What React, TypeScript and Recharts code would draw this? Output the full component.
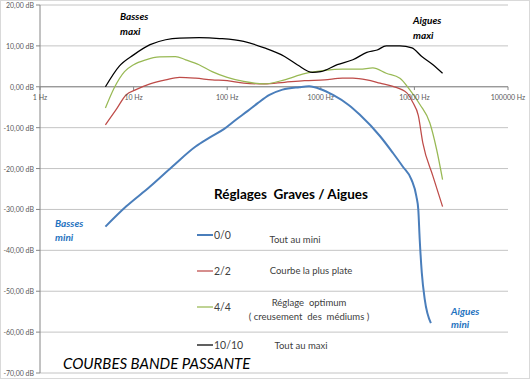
import React from 'react';
import { LineChart, Line, XAxis, YAxis, CartesianGrid, ReferenceLine, ReferenceDot } from 'recharts';

// ---- data ----
const freqTicks = [1, 10, 100, 1000, 10000, 100000];
const freqLabels = ['1 Hz', '10 Hz', '100 Hz', '1000 Hz', '10000 Hz', '100000 Hz'];
const dbTicks = [20, 10, 0, -10, -20, -30, -40, -50, -60, -70];

const blueFreq = [5, 8.3, 15, 26, 46, 64, 93, 125, 166, 212, 283, 390, 590, 750, 1000, 1350, 2000, 2600, 4300, 5900, 7500, 9300, 10500, 11000, 11400, 12000, 12900, 15000];
const blueDb = [-34.2, -29.3, -24.4, -19.5, -14.6, -12.5, -10.3, -8.0, -5.9, -4.0, -2.0, -0.7, -0.1, 0.1, -0.6, -2.0, -4.5, -6.8, -12.1, -16.2, -19.5, -22.7, -26.8, -30, -37.4, -45.5, -52, -57.8];

const redFreq = [5, 6.5, 8.3, 10.6, 15, 22, 31, 46, 69, 100, 150, 250, 410, 670, 1100, 1700, 2200, 3100, 4300, 5900, 8300, 9600, 11000, 12300, 15800, 20000];
const redDb = [-9.3, -5.6, -2.0, -0.7, 0.7, 1.7, 2.3, 2.1, 1.7, 1.5, 0.9, 0.7, 1.1, 1.5, 1.7, 2.1, 2.1, 1.7, 0.9, 0.1, -1.5, -3.8, -7.0, -13.7, -21.9, -29.3];

const greenFreq = [5, 6.2, 8, 10, 13.5, 19, 28, 36, 50, 69, 100, 150, 250, 410, 670, 1100, 1700, 2600, 3600, 5000, 7000, 8900, 11500, 14600, 17300, 20000];
const greenDb = [-5.2, -0.3, 3.7, 5.4, 6.6, 7.3, 7.4, 6.6, 5.4, 3.7, 2.3, 1.3, 0.7, 1.7, 3.2, 4.0, 4.3, 4.3, 4.6, 3.3, 2.1, -0.7, -4.4, -8.8, -15.4, -22.7];

const blackFreq = [5, 7, 10, 15, 22, 31, 50, 83, 150, 250, 410, 560, 815, 1000, 1500, 2200, 3100, 4000, 5000, 7000, 9400, 12000, 15800, 20000];
const blackDb = [0, 5.0, 7.8, 10.3, 11.5, 11.9, 12.0, 11.8, 11.1, 9.5, 7.4, 5.4, 3.5, 3.7, 5.4, 6.6, 8.4, 9.0, 10.0, 10.0, 9.5, 7.4, 5.4, 3.3];

const seriesNames = ['0/0', '2/2', '4/4', '10/10'];
const seriesDesc = [['Tout au mini'], ['Courbe la plus plate'], ['Réglage  optimum', '( creusement  des  médiums )'], ['Tout au maxi']];
const seriesColors = ['#4a7ebb', '#be4b48', '#98b954', '#000000'];
const seriesWidths = [2, 1.25, 1.25, 1.25];

const zip = (f: number[], d: number[]) => f.map((v, i) => ({ f: v, db: d[i] }));
const seriesData = [zip(blueFreq, blueDb), zip(redFreq, redDb), zip(greenFreq, greenDb), zip(blackFreq, blackDb)];

const fmtDb = (v: number) => v.toFixed(2).replace('.', ',') + ' dB';
const FONT = 'Lato, "Open Sans", sans-serif';

// legend layout (page coords)
const legendY = [235, 271, 307, 345];
const descX = [295, 311, 309, 301];
const descY = [[239], [270], [302, 316], [345]];

const YTick = (props: any) => {
  const { x, y, payload } = props;
  return (
    <text x={x} y={y} textAnchor="end" dominantBaseline="central" fontSize={7} fill="#595959" fontFamily={FONT}>
      {fmtDb(payload.value)}
    </text>
  );
};

export default function App() {
  return (
    <div style={{ position: 'absolute', left: 0, top: 0, width: 530, height: 379, boxSizing: 'border-box', border: '1px solid #d9d9d9', background: '#fff', fontFamily: FONT }}>
      <div style={{ position: 'absolute', left: 0, top: 0 }}>
        <LineChart width={528} height={377} margin={{ top: 4, right: 21, bottom: 5, left: 0 }}>
          <CartesianGrid horizontal vertical={false} stroke="#c4c4c4" />
          <XAxis type="number" dataKey="f" scale="log" domain={[1, 100000]} hide allowDataOverflow />
          <YAxis
            type="number"
            domain={[-70, 20]}
            ticks={dbTicks}
            interval={0}
            width={39}
            tickSize={4}
            tickMargin={2}
            axisLine={{ stroke: '#868686' }}
            tickLine={{ stroke: '#868686' }}
            tick={<YTick />}
          />
          <ReferenceLine y={0} stroke="#868686" />
          {freqTicks.map((f) => (
            <ReferenceLine key={'t' + f} segment={[{ x: f, y: 0 }, { x: f, y: -0.8 }]} stroke="#868686" />
          ))}
          {freqTicks.map((f, i) => (
            <ReferenceDot
              key={'l' + f}
              x={f}
              y={0}
              r={0}
              fill="none"
              stroke="none"
              label={{ value: freqLabels[i], position: 'bottom', offset: 8, fontSize: 7, fill: '#595959', fontFamily: FONT }}
            />
          ))}
          {seriesData.map((d, i) => (
            <Line
              key={seriesNames[i]}
              data={d}
              dataKey="db"
              name={seriesNames[i]}
              type="monotone"
              stroke={seriesColors[i]}
              strokeWidth={seriesWidths[i]}
              dot={false}
              activeDot={false}
              isAnimationActive={false}
            />
          ))}
        </LineChart>
      </div>
      <svg width={530} height={379} style={{ position: 'absolute', left: -1, top: -1, pointerEvents: 'none', whiteSpace: 'pre' }} fontFamily={FONT}>
        <text x={291} y={194} textAnchor="middle" dominantBaseline="central" fontSize={13.5} fontWeight="bold" fill="#000" xmlSpace="preserve">Réglages  Graves / Aigues</text>
        {seriesNames.map((n, i) => (
          <g key={n}>
            <line x1={197} x2={213} y1={legendY[i]} y2={legendY[i]} stroke={seriesColors[i]} strokeWidth={seriesWidths[i]} />
            <text x={214} y={legendY[i]} dominantBaseline="central" fontSize={10.5} fill="#404040">{n}</text>
            {seriesDesc[i].map((t, j) => (
              <text key={j} x={descX[i]} y={descY[i][j]} textAnchor="middle" dominantBaseline="central" fontSize={9.5} fill="#404040" xmlSpace="preserve">{t}</text>
            ))}
          </g>
        ))}
        <text x={63} y={363} dominantBaseline="central" fontSize={15} fontStyle="italic" fill="#000">COURBES BANDE PASSANTE</text>
        <g fontSize={10} fontWeight="bold" fontStyle="italic">
          <text x={120} y={16} dominantBaseline="central" fill="#000">Basses</text>
          <text x={120} y={31} dominantBaseline="central" fill="#000">maxi</text>
          <text x={413} y={20} dominantBaseline="central" fill="#000">Aigues</text>
          <text x={413} y={35} dominantBaseline="central" fill="#000">maxi</text>
          <text x={55} y={223} dominantBaseline="central" fill="#1f73c0">Basses</text>
          <text x={55} y={237} dominantBaseline="central" fill="#1f73c0">mini</text>
          <text x={451} y={311} dominantBaseline="central" fill="#1f73c0">Aigues</text>
          <text x={451} y={324} dominantBaseline="central" fill="#1f73c0">mini</text>
        </g>
      </svg>
    </div>
  );
}
